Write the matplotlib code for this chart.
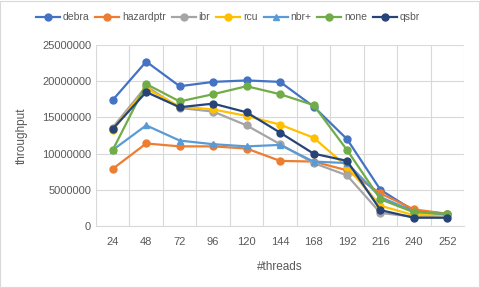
import matplotlib
matplotlib.use('Agg')
import matplotlib.pyplot as plt
from matplotlib.ticker import MultipleLocator

plt.rcParams['font.family'] = ['Liberation Sans', 'DejaVu Sans']

threads = ['24', '48', '72', '96', '120', '144', '168', '192', '216', '240', '252']

debra = [17.4, 22.7, 19.3, 19.9, 20.1, 19.9, 16.5, 12.0, 5.0, 2.1, 1.7]
hazardptr = [7.9, 11.4, 11.0, 11.0, 10.7, 9.0, 8.9, 7.7, 4.5, 2.3, 1.7]
ibr = [13.6, 19.3, 16.3, 15.8, 13.9, 11.3, 8.7, 7.0, 1.8, 1.3, 1.5]
rcu = [13.3, 19.0, 16.5, 16.1, 15.2, 14.0, 12.2, 8.2, 2.8, 1.5, 1.5]
nbr = [10.5, 13.9, 11.8, 11.3, 11.0, 11.2, 8.9, 8.7, 4.0, 2.0, 1.6]
none = [10.5, 19.6, 17.2, 18.2, 19.3, 18.2, 16.7, 10.5, 3.7, 1.9, 1.7]
qsbr = [13.4, 18.5, 16.4, 16.9, 15.7, 12.9, 10.0, 9.0, 2.2, 1.15, 1.15]

series = [
    ('debra', debra, '#4472C4', 'o'),
    ('hazardptr', hazardptr, '#ED7D31', 'o'),
    ('ibr', ibr, '#A5A5A5', 'o'),
    ('rcu', rcu, '#FFC000', 'o'),
    ('nbr+', nbr, '#5B9BD5', '^'),
    ('none', none, '#70AD47', 'o'),
    ('qsbr', qsbr, '#264478', 'o'),
]

fig = plt.figure(figsize=(4.8, 2.88), dpi=100)
ax = fig.add_axes([0.2, 0.215, 0.767, 0.629])

x = list(range(len(threads)))
for name, vals, color, m in series:
    ax.plot(x, [v * 1e6 for v in vals], color=color, marker=m, markersize=5,
            linewidth=1.6, label=name)

ax.set_xlim(-0.5, len(threads) - 0.5)
ax.set_ylim(0, 25000000)
ax.yaxis.set_major_locator(MultipleLocator(5000000))
ax.set_xticks(x)
ax.set_xticklabels(threads)
ax.set_xticks([i + 0.5 for i in range(-1, len(threads))], minor=True)
ax.grid(True, axis='y', color='#D9D9D9', linewidth=0.8)
ax.grid(True, axis='x', which='minor', color='#D9D9D9', linewidth=0.8)
ax.set_axisbelow(True)
ax.ticklabel_format(axis='y', style='plain', useOffset=False)
for s in ['top', 'right', 'left']:
    ax.spines[s].set_visible(False)
ax.spines['bottom'].set_color('#D9D9D9')
ax.tick_params(which='both', length=0, colors='#595959', labelsize=8)
ax.tick_params(axis='x', pad=8)

ax.set_xlabel('#threads', color='#595959', fontsize=8.5, labelpad=10)
ax.set_ylabel('throughput', color='#595959', fontsize=8.5, labelpad=10)

fig.legend(loc='center', bbox_to_anchor=(0.475, 0.94), ncol=7, frameon=False,
           fontsize=7.5, handlelength=2.3, columnspacing=0.6, handletextpad=0.25,
           labelcolor='#595959')

fig.patches.append(plt.Rectangle((0.001, 0.002), 0.997, 0.995, transform=fig.transFigure,
                                 fill=False, edgecolor='#D9D9D9', linewidth=0.8))

fig.savefig('out.png', dpi=100)
